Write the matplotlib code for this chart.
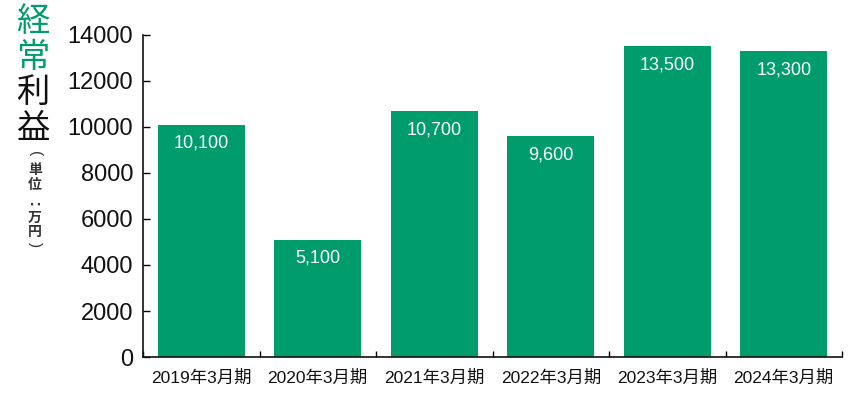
import matplotlib
matplotlib.use("Agg")
import matplotlib.pyplot as plt
from matplotlib.ticker import FixedLocator

categories = ["2019年3月期", "2020年3月期", "2021年3月期", "2022年3月期", "2023年3月期", "2024年3月期"]
values = [10100, 5100, 10700, 9600, 13500, 13300]
value_labels = ["10,100", "5,100", "10,700", "9,600", "13,500", "13,300"]
yticks = [0, 2000, 4000, 6000, 8000, 10000, 12000, 14000]

GREEN = "#009C6B"
LAT = ["Liberation Sans", "Noto Sans CJK JP", "DejaVu Sans"]
CJK = ["Noto Sans CJK JP", "DejaVu Sans"]

fig = plt.figure(figsize=(8.6, 4.0), dpi=100)
ax = fig.add_axes([143/860, 1-357/400, (842-143)/860, (357-35)/400])

x = list(range(len(categories)))
ax.bar(x, values, width=0.75, color=GREEN, zorder=2)
for xi, v, lab in zip(x, values, value_labels):
    ax.annotate(lab, (xi, v), xytext=(0, -13.5), textcoords="offset points",
                ha="center", va="center", color="white", fontsize=13, family=LAT)

ax.set_xlim(-0.5, 5.5)
ax.set_ylim(0, 14000)
ax.set_yticks(yticks)
ax.set_yticklabels([str(t) for t in yticks], family=LAT, fontsize=17, color="#111111")
ax.set_xticks(x)
ax.set_xticklabels(categories, family=LAT, fontsize=12.5, color="#111111")
ax.xaxis.set_minor_locator(FixedLocator([i + 0.5 for i in range(-1, 6)]))
ax.tick_params(axis="x", which="major", length=0, pad=9)
ax.tick_params(axis="x", which="minor", direction="in", length=4, width=1)
ax.tick_params(axis="y", direction="in", length=5, width=1, pad=7)
for s in ["top", "right"]:
    ax.spines[s].set_visible(False)
for s in ["left", "bottom"]:
    ax.spines[s].set_linewidth(1.2)
    ax.spines[s].set_color("#111111")

# vertical title
title_chars = [("経", GREEN, 22), ("常", GREEN, 57), ("利", "#111111", 92), ("益", "#111111", 128)]
for ch, col, yy in title_chars:
    fig.text(33/860, 1-yy/400, ch, color=col, fontsize=24, family=CJK, ha="center", va="center")

# unit text, vertical: (単位：万円)
unit_chars = [("(", 154, -90, LAT, 11, "normal"), ("単", 170, 0, CJK, 10, "bold"),
              ("位", 185, 0, CJK, 10, "bold"), (":", 202, 90, LAT, 12, "bold"),
              ("万", 218, 0, CJK, 10, "bold"), ("円", 232, 0, CJK, 10, "bold"),
              (")", 245, -90, LAT, 11, "normal")]
for ch, yy, rot, fam, fs, fw in unit_chars:
    fig.text(35/860, 1-yy/400, ch, color="#333333", fontsize=fs, family=fam,
             ha="center", va="center", rotation=rot, rotation_mode="anchor", fontweight=fw)

fig.savefig("out.png", dpi=100)
